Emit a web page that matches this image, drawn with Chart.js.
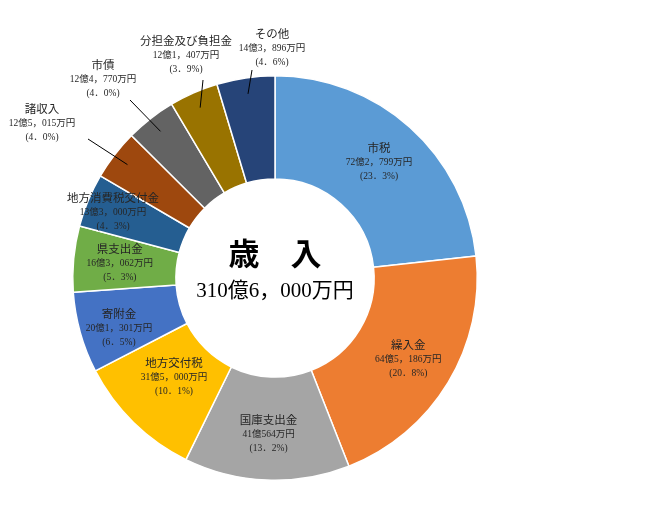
<!DOCTYPE html>
<html lang="ja">
<head>
<meta charset="utf-8">
<script src="https://cdn.jsdelivr.net/npm/chart.js@4/dist/chart.umd.min.js"></script>
<style>
    body { margin: 0; background: #fff; }
    #cadre { width: 650px; height: 509px; }
</style>
</head>
<body>
<div id="cadre"><canvas id="graphique_recettes" width="650" height="509"></canvas></div>
<script>
// 歳入の内訳（単位：万円）
const categories = ['市税', '繰入金', '国庫支出金', '地方交付税', '寄附金', '県支出金',
    '地方消費税交付金', '諸収入', '市債', '分担金及び負担金', 'その他'];
const montants = [722799, 645186, 410564, 315000, 201301, 163062, 133000, 125015, 124770, 121407, 143896];
const pourcentages = [23.3, 20.8, 13.2, 10.1, 6.5, 5.3, 4.3, 4.0, 4.0, 3.9, 4.6];
const couleurs = ['#5B9BD5', '#ED7D31', '#A5A5A5', '#FFC000', '#4472C4', '#70AD47',
    '#255E91', '#9E480E', '#636363', '#997300', '#264478'];
const titre = '歳　入';
const total = '310億6，000万円';

const POLICE = '"Liberation Serif", "Noto Sans CJK JP", serif';

function formatMontant(v) {
    const oku = Math.floor(v / 10000);
    const man = v % 10000;
    return oku + '億' + man.toLocaleString('en-US').replace(',', '，') + '万円';
}

function formatPct(p) {
    return '(' + p.toFixed(1).replace('.', '．') + '%)';
}

// étiquettes hors de l'anneau : position du texte et départ du trait (relatifs au centre)
const exterieur = {
    7: { tx: -233, ty: -168, lx: -187, ly: -139 },
    8: { tx: -172, ty: -212, lx: -145, ly: -178 },
    9: { tx: -89, ty: -236, lx: -72, ly: -198 },
    10: { tx: -3, ty: -243, lx: -23, ly: -208 }
};
// petits décalages des étiquettes intérieures
const decalage = { 3: { dx: 8, dy: -12 }, 4: { dx: -6, dy: 8 }, 6: { dx: -18, dy: -6 } };

const etiquettes = {
    id: 'etiquettes',
    afterDatasetsDraw(chart) {
        const ctx = chart.ctx;
        const arcs = chart.getDatasetMeta(0).data;
        ctx.save();
        ctx.textAlign = 'center';
        ctx.textBaseline = 'middle';
        ctx.fillStyle = '#262626';
        arcs.forEach(function (arc, i) {
            const cx = arc.x, cy = arc.y;
            const mid = (arc.startAngle + arc.endAngle) / 2;
            const lignes = [categories[i], formatMontant(montants[i]), formatPct(pourcentages[i])];
            let x, y;
            if (exterieur[i]) {
                const e = exterieur[i];
                x = cx + e.tx;
                y = cy + e.ty;
                const r = arc.outerRadius * 0.92;
                ctx.beginPath();
                ctx.strokeStyle = '#000';
                ctx.lineWidth = 1;
                ctx.moveTo(cx + e.lx, cy + e.ly);
                ctx.lineTo(cx + Math.cos(mid) * r, cy + Math.sin(mid) * r);
                ctx.stroke();
            } else {
                const r = arc.innerRadius + (arc.outerRadius - arc.innerRadius) * 0.55;
                const d = decalage[i] || { dx: 0, dy: 0 };
                x = cx + Math.cos(mid) * r + d.dx;
                y = cy + Math.sin(mid) * r - 13 + d.dy;
            }
            ctx.font = '11.5px ' + POLICE;
            ctx.fillText(lignes[0], x, y);
            ctx.font = '9.5px ' + POLICE;
            ctx.fillText(lignes[1], x, y + 13.5);
            ctx.fillText(lignes[2], x, y + 27.5);
        });
        // texte au centre
        const a = arcs[0];
        ctx.fillStyle = '#000';
        ctx.font = 'bold 31px "Noto Sans CJK JP", sans-serif';
        ctx.fillText(titre, a.x, a.y - 25);
        ctx.font = '21px ' + POLICE;
        ctx.fillText(total, a.x, a.y + 13);
        ctx.restore();
    }
};

new Chart(document.getElementById('graphique_recettes').getContext('2d'), {
    type: 'doughnut',
    data: {
        labels: categories,
        datasets: [{
            data: montants,
            backgroundColor: couleurs,
            borderColor: '#ffffff',
            borderWidth: 1.5
        }]
    },
    options: {
        responsive: false,
        animation: false,
        cutout: '49%',
        layout: { padding: { left: 72, right: 172, top: 75, bottom: 28 } },
        plugins: {
            legend: { display: false },
            tooltip: { enabled: false }
        }
    },
    plugins: [etiquettes]
});
</script>
</body>
</html>
